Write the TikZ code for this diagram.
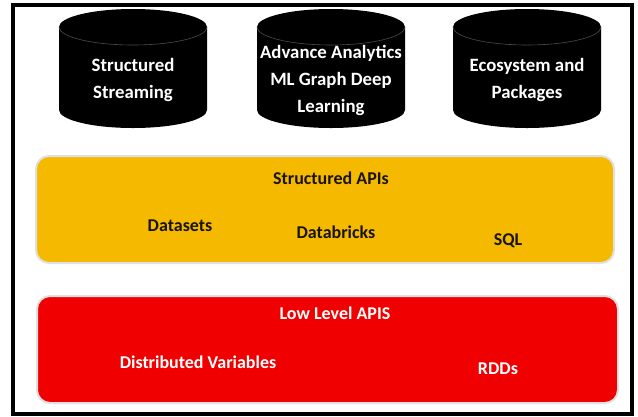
\documentclass[tikz,border=0pt]{standalone}
\usepackage{fontspec}
\setmainfont{Carlito}
\definecolor{apiyellow}{RGB}{245,185,0}
\definecolor{apired}{RGB}{240,0,0}
\definecolor{darktext}{RGB}{25,20,10}
\begin{document}
\begin{tikzpicture}[x=1pt,y=-1pt,
  lbl/.style={font=\bfseries\fontsize{18}{26}\selectfont, align=center, inner sep=0pt},
  cyltext/.style={lbl, font=\bfseries\fontsize{18.8}{27}\selectfont, text=white},
  ytext/.style={lbl, text=darktext},
  rtext/.style={lbl, text=white},
  layer/.style={rounded corners=13pt, draw=black!12, line width=2pt},
  cylbody/.style={fill=black},
  cylrim/.style={draw=black!70!white, line width=0.6pt}
]
\useasboundingbox (0,0) rectangle (638,416);
\fill[white] (0,0) rectangle (638,416);
% frame
\draw[line width=3.2pt] (13,5) rectangle (632,414);

% cylinders
\foreach \cx/\nm in {133/c1, 331/c2, 527/c3}{
  \fill[cylbody] (\cx-74,27) -- (\cx-74,110) arc[start angle=180, end angle=0, x radius=74, y radius=18]
     -- (\cx+74,27) arc[start angle=0, end angle=-180, x radius=74, y radius=18] -- cycle;
  \draw[cylrim] (\cx-74,27) arc[start angle=180, end angle=0, x radius=74, y radius=18];
  \coordinate (\nm) at (\cx,75);
}
\node[cyltext] (t1) at (133,80) {Structured\\Streaming};
\node[cyltext] (t2) at (331,80) {Advance Analytics\\ML Graph Deep\\Learning};
\node[cyltext] (t3) at (527,80) {Ecosystem and\\Packages};

% structured APIs layer
\draw[layer, fill=apiyellow] (36,156) rectangle (614,263);
\node[ytext] (sapi) at (331,178) {Structured APIs};
\node[ytext] (ds) at (180,226) {Datasets};
\node[ytext] (db) at (336,232) {Databricks};
\node[ytext] (sql) at (508,241) {SQL};

% low level layer
\draw[layer, fill=apired] (37,296) rectangle (618,403);
\node[rtext] (lapi) at (335,313) {Low Level APIS};
\node[rtext] (dv) at (198,362) {Distributed Variables};
\node[rtext] (rdd) at (498,369) {RDDs};
\end{tikzpicture}
\end{document}
